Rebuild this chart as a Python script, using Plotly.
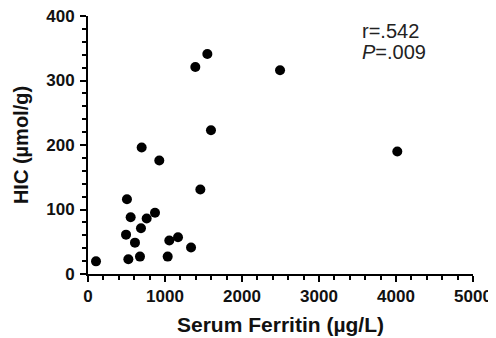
import plotly.graph_objects as go

ferritin = [697, 926, 1394, 1550, 1597, 2494, 4017, 104, 506, 554, 494, 610, 524, 675,
            688, 762, 870, 1035, 1056, 1169, 1338, 1459]
hic = [196, 176, 321, 341, 223, 316, 190, 19.6, 116, 88, 61, 48.6, 23, 27,
       71, 86, 95, 27, 52, 57, 41, 131]

x_ticks = [0, 1000, 2000, 3000, 4000, 5000]
y_ticks = [0, 100, 200, 300, 400]

FONT = "Liberation Sans"

fig = go.Figure()
fig.add_trace(go.Scatter(
    x=ferritin, y=hic, mode="markers",
    marker=dict(color="black", size=10, line=dict(width=0)),
    cliponaxis=False, showlegend=False,
))

axis_common = dict(
    showgrid=False, zeroline=False, showline=True, linecolor="black", linewidth=2,
    ticks="outside", ticklen=6, tickwidth=2, tickcolor="black", automargin=False,
    ticklabeloverflow="allow",
    tickfont=dict(family=FONT, size=17, color="#111", weight=700),
)

# page body has an 8px margin, so the figure is sized/offset to compensate
fig.update_layout(
    width=488, height=330,
    margin=dict(l=80, r=23, t=8, b=64),
    plot_bgcolor="white", paper_bgcolor="white",
    xaxis=dict(range=[0, 5000], tickvals=x_ticks, ticktext=[str(v) for v in x_ticks],
               ticklabelstandoff=0,
               minor=dict(dtick=200, tick0=0, ticks="outside", ticklen=4, tickwidth=2, tickcolor="black"),
               title=dict(text="Serum Ferritin (µg/L)", standoff=12,
                          font=dict(family=FONT, size=21, color="#111", weight=700)),
               **axis_common),
    yaxis=dict(range=[0, 400], tickvals=y_ticks, ticktext=[str(v) for v in y_ticks],
               ticklabelstandoff=2,
               minor=dict(dtick=20, tick0=0, ticks="outside", ticklen=4, tickwidth=2, tickcolor="black"),
               title=dict(text="HIC (µmol/g)", standoff=12,
                          font=dict(family=FONT, size=20, color="#111", weight=700)),
               **axis_common),
    annotations=[
        dict(x=3530, y=377, xref="x", yref="y", xanchor="left", yanchor="middle",
             text="r=.542", showarrow=False,
             font=dict(family=FONT, size=20, color="#222")),
        dict(x=3530, y=344, xref="x", yref="y", xanchor="left", yanchor="middle",
             text="<i>P</i>=.009", showarrow=False,
             font=dict(family=FONT, size=20, color="#222")),
    ],
)

fig.write_html("out.html")
